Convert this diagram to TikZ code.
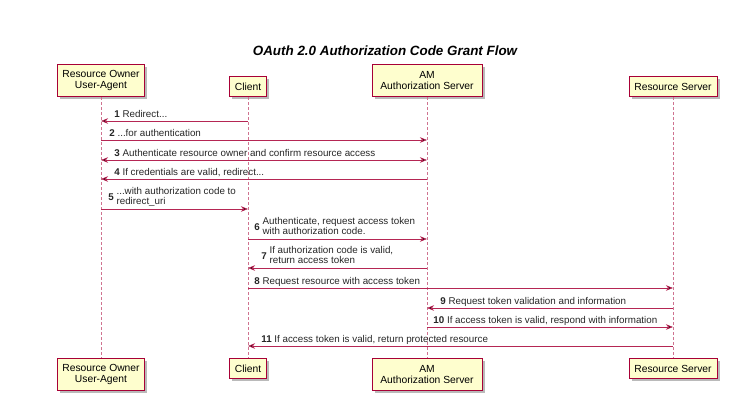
\documentclass[tikz,border=0pt]{standalone}
\usepackage{fontspec}
\setmainfont{Liberation Sans}
\usetikzlibrary{arrows.meta,shadows}
\definecolor{umlred}{HTML}{A80036}
\definecolor{umlfill}{HTML}{FEFECE}
\newcommand{\msgfont}{\fontsize{9.8}{10}\selectfont}
\newcommand{\partfont}{\fontsize{10.3}{11}\selectfont}

\begin{document}
\begin{tikzpicture}[x=1pt,y=-1pt,>={Stealth[length=7pt,width=5.5pt,inset=2pt]},
    part/.style={draw=umlred,fill=umlfill,line width=1pt,font=\partfont,
      align=center,inner sep=2pt,minimum height=#1,
      drop shadow={shadow xshift=2.5pt,shadow yshift=-2.5pt,fill=black!45,opacity=.6}},
    life/.style={draw=umlred!55,dash pattern=on 3pt off 2pt,line width=0.7pt},
    msg/.style={draw=umlred!85,line width=0.8pt},
    lbl/.style={pos=0,anchor=base west,inner sep=0pt,font=\msgfont,text=black!85,xshift=#1,yshift=3.5pt},
    lbltwo/.style={pos=0,anchor=south west,inner sep=0pt,font=\msgfont,text=black!85,xshift=#1,yshift=1pt}]
  \useasboundingbox (0,0) rectangle (739,415);
  \node[font=\bfseries\itshape\fontsize{13.4}{15}\selectfont] (title) at (385,51)
    {OAuth 2.0 Authorization Code Grant Flow};
  % participants, top and bottom
  \node[part=32pt,minimum width=87pt,anchor=south] (ua) at (101,97) {Resource Owner\\User-Agent};
  \node[part=20pt,minimum width=37pt,anchor=south] (cl) at (248,97) {Client};
  \node[part=32pt,minimum width=110pt,anchor=south] (am) at (427,97) {AM\\Authorization Server};
  \node[part=20pt,minimum width=88pt,anchor=south] (rs) at (673,97) {Resource Server};
  \node[part=32pt,minimum width=87pt,anchor=north] (ua-b) at (101,358) {Resource Owner\\User-Agent};
  \node[part=20pt,minimum width=37pt,anchor=north] (cl-b) at (248,358) {Client};
  \node[part=32pt,minimum width=110pt,anchor=north] (am-b) at (427,358) {AM\\Authorization Server};
  \node[part=20pt,minimum width=88pt,anchor=north] (rs-b) at (673,358) {Resource Server};
  \foreach \p in {ua,cl,am,rs}
    \draw[life] (\p.south) -- (\p-b.north);
  % one point per lifeline and message
  \foreach \k/\y in {1/121,2/140,3/160,4/179,5/209,6/239,7/268,8/288,9/308,10/327,11/346} {
    \coordinate (ua\k) at (101,\y);
    \coordinate (cl\k) at (248,\y);
    \coordinate (am\k) at (427,\y);
    \coordinate (rs\k) at (673,\y);
  }
  \path[msg] (ua1) edge[<-] node[lbl=13pt] {\textbf{1} Redirect...} (cl1)
    (ua2) edge[->] node[lbl=8pt] {\textbf{2} ...for authentication} (am2)
    (ua3) edge[<->] node[lbl=13pt] {\textbf{3} Authenticate resource owner and confirm resource access} (am3)
    (ua4) edge[<-] node[lbl=13pt] {\textbf{4} If credentials are valid, redirect...} (am4)
    (ua5) edge[->] node[lbltwo=7pt] {\textbf{5} \begin{tabular}[c]{@{}l@{}}...with authorization code to\\redirect\_uri\end{tabular}} (cl5)
    (cl6) edge[->] node[lbltwo=6pt] {\textbf{6} \begin{tabular}[c]{@{}l@{}}Authenticate, request access token\\with authorization code.\end{tabular}} (am6)
    (cl7) edge[<-] node[lbltwo=13pt] {\textbf{7} \begin{tabular}[c]{@{}l@{}}If authorization code is valid,\\return access token\end{tabular}} (am7)
    (cl8) edge[->] node[lbl=6pt] {\textbf{8} Request resource with access token} (rs8)
    (am9) edge[<-] node[lbl=13pt] {\textbf{9} Request token validation and information} (rs9)
    (am10) edge[->] node[lbl=6pt] {\textbf{10} If access token is valid, respond with information} (rs10)
    (cl11) edge[<-] node[lbl=13pt] {\textbf{11} If access token is valid, return protected resource} (rs11);
\end{tikzpicture}
\end{document}
